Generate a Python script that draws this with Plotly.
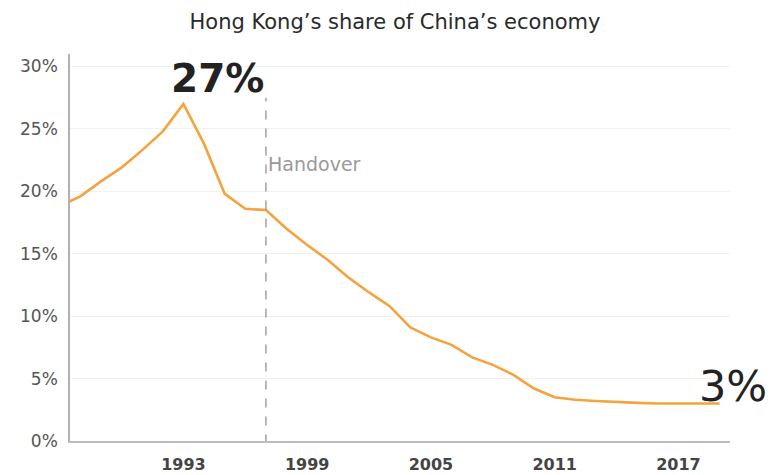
import plotly.graph_objects as go

# Hong Kong GDP as a share of mainland China's GDP (%)
years = list(range(1987, 2020))
share = [18.8, 19.6, 20.8, 21.9, 23.3, 24.8, 27.0, 23.8, 19.8, 18.6,
         18.5, 17.0, 15.7, 14.5, 13.1, 11.9, 10.8, 9.1, 8.3, 7.7,
         6.7, 6.1, 5.3, 4.2, 3.5, 3.3, 3.2, 3.1, 3.05, 3.0,
         3.0, 3.0, 3.0]

x_ticks = [1993, 1999, 2005, 2011, 2017]
y_ticks = [0, 5, 10, 15, 20, 25, 30]
y_tick_text = [f"{v}%" for v in y_ticks]

handover_year = 1997
peak_label = "27%"
last_label = "3%"

FONT = "DejaVu Sans"
ORANGE = "#F4A33E"

fig = go.Figure()
fig.add_trace(go.Scatter(
    x=years, y=share, mode="lines",
    line=dict(color=ORANGE, width=2.6),
    hoverinfo="skip", showlegend=False,
))

# Handover marker
fig.add_shape(type="line", xref="x", yref="y",
              x0=handover_year, x1=handover_year, y0=-0.2, y1=27.5,
              line=dict(color="#8a8a8a", width=1.2, dash="dash"))

fig.add_annotation(x=handover_year, y=22.2, xref="x", yref="y",
                   text="Handover", showarrow=False, xanchor="left", xshift=0,
                   font=dict(family=FONT, size=19, color="#9a9a9a"))

peak_idx = share.index(max(share))
fig.add_annotation(x=years[peak_idx], y=29.0, xref="x", yref="y",
                   text=peak_label, showarrow=False, xanchor="left", xshift=-14,
                   font=dict(family=FONT, size=39, color="#222222", weight="bold"))

fig.add_annotation(x=years[-1], y=4.4, xref="x", yref="y",
                   text=last_label, showarrow=False, xanchor="left", xshift=-23,
                   font=dict(family=FONT, size=43, color="#222222"))

fig.update_layout(
    width=777, height=475,
    margin=dict(l=70, r=47, t=54, b=34),
    paper_bgcolor="white", plot_bgcolor="white",
    title=dict(text="Hong Kong’s share of China’s economy",
               x=395 / 777, xanchor="center", xref="container",
               y=1 - 22 / 475, yanchor="middle", yref="container",
               font=dict(family=FONT, size=21, color="#2a2a2a")),
    xaxis=dict(range=[1987.5, 2019.5], tickvals=x_ticks,
               showgrid=False, zeroline=False, automargin=False,
               showline=True, linecolor="#bdbdbd", linewidth=2,
               ticks="", ticklabelstandoff=8,
               tickfont=dict(family=FONT, size=16, color="#444444", weight="bold")),
    yaxis=dict(range=[0, 31], tickvals=y_ticks, ticktext=y_tick_text,
               showgrid=True, gridcolor="#f1f1f1", gridwidth=1,
               zeroline=False, automargin=False,
               showline=True, linecolor="#b0b0b0", linewidth=1.5,
               ticks="", ticklabelstandoff=7,
               tickfont=dict(family=FONT, size=17, color="#555555")),
)

fig.write_html("out.html")
